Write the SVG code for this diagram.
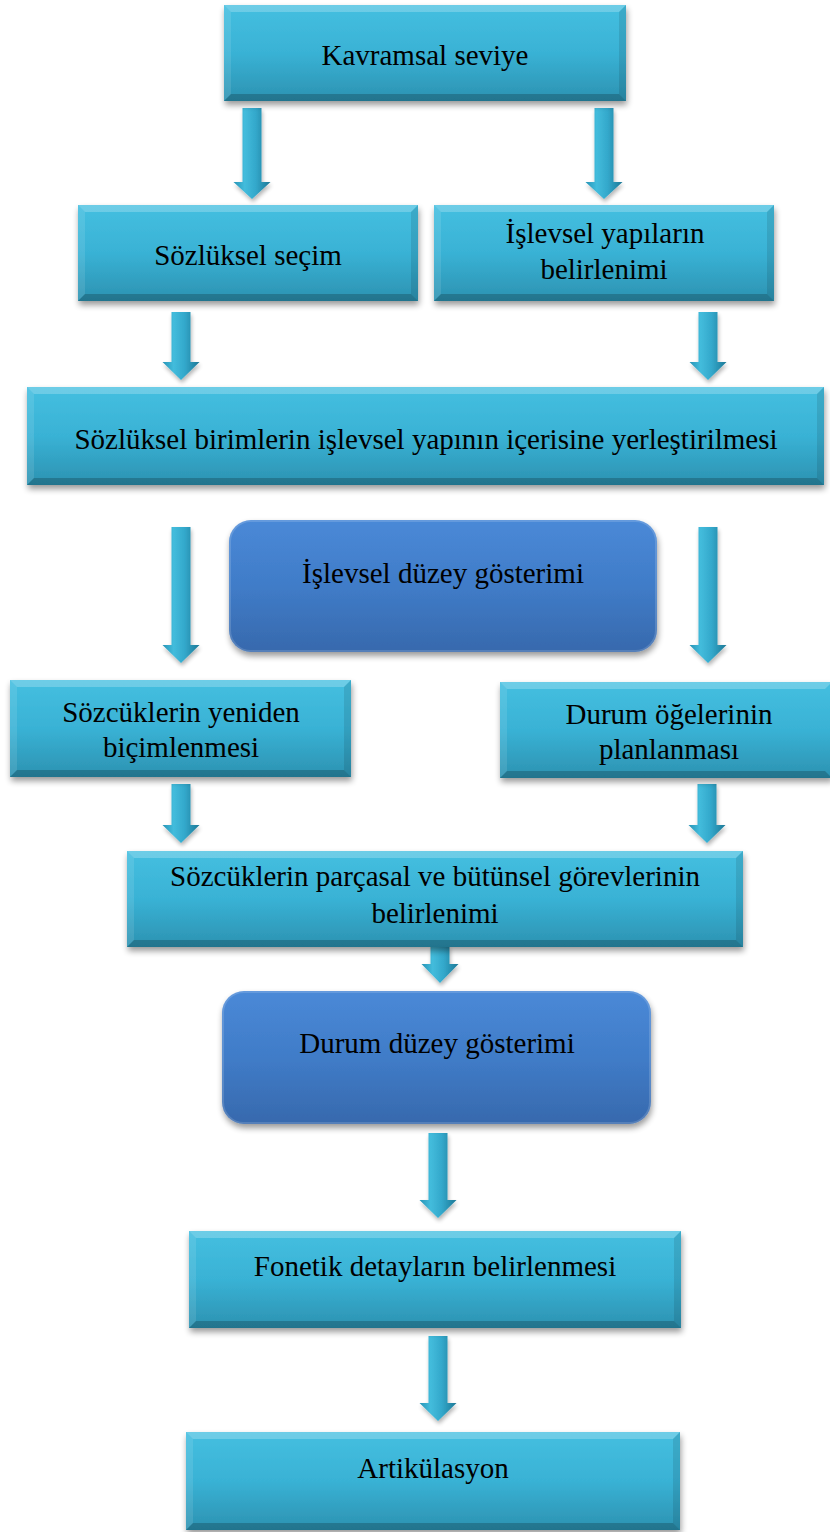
<svg xmlns="http://www.w3.org/2000/svg" width="830" height="1532" viewBox="0 0 830 1532">
<defs>
<linearGradient id="cy" x1="0" y1="0" x2="0" y2="1">
<stop offset="0" stop-color="#45bfe0"/>
<stop offset="0.5" stop-color="#39b2d5"/>
<stop offset="1" stop-color="#2c92b1"/>
</linearGradient>
<linearGradient id="bl" x1="0" y1="0" x2="0" y2="1">
<stop offset="0" stop-color="#4a89d7"/>
<stop offset="0.5" stop-color="#407cc8"/>
<stop offset="1" stop-color="#3769ad"/>
</linearGradient>
<linearGradient id="ag" x1="0" y1="0" x2="1" y2="0">
<stop offset="0" stop-color="#2794b6"/>
<stop offset="0.3" stop-color="#43bcdc"/>
<stop offset="0.6" stop-color="#33a8cb"/>
<stop offset="1" stop-color="#1d7896"/>
</linearGradient>
<filter id="sh" x="-10%" y="-10%" width="120%" height="130%">
<feGaussianBlur in="SourceAlpha" stdDeviation="3"/>
<feOffset dx="1" dy="4" result="b"/>
<feComponentTransfer><feFuncA type="linear" slope="0.4"/></feComponentTransfer>
<feMerge><feMergeNode/><feMergeNode in="SourceGraphic"/></feMerge>
</filter>
<filter id="ash" x="-50%" y="-10%" width="200%" height="130%">
<feGaussianBlur in="SourceAlpha" stdDeviation="2"/>
<feOffset dx="1" dy="3"/>
<feComponentTransfer><feFuncA type="linear" slope="0.3"/></feComponentTransfer>
<feMerge><feMergeNode/><feMergeNode in="SourceGraphic"/></feMerge>
</filter>
<style>
.box{fill:url(#cy);filter:url(#sh)}
.rbox{fill:url(#bl);filter:url(#sh)}
.bt{fill:#ffffff;fill-opacity:0.22}
.bl{fill:#ffffff;fill-opacity:0.1}
.br{fill:#000000;fill-opacity:0.1}
.bb{fill:#000000;fill-opacity:0.2}
.hl{fill:none;stroke:#ffffff;stroke-opacity:0.15;stroke-width:2}
.arr{fill:url(#ag)}
text{font-family:"Liberation Serif","Times New Roman",serif;font-size:29px;fill:#000;text-anchor:middle}
</style>
</defs>
<rect width="830" height="1532" fill="#ffffff"/>

<g id="connectors" filter="url(#ash)">
<path class="arr" d="M242.5,108H261.5V182H270.5L252,199L233.5,182H242.5Z"/>
<path class="arr" d="M594.5,108H613.5V182H622.5L604,199L585.5,182H594.5Z"/>
<path class="arr" d="M171.5,312H190.5V362H199.5L181,380L162.5,362H171.5Z"/>
<path class="arr" d="M698.5,312H717.5V362H726.5L708,380L689.5,362H698.5Z"/>
<path class="arr" d="M171.5,527H190.5V645H199.5L181,663L162.5,645H171.5Z"/>
<path class="arr" d="M698.5,527H717.5V645H726.5L708,663L689.5,645H698.5Z"/>
<path class="arr" d="M171.5,784H190.5V825H199.5L181,843L162.5,825H171.5Z"/>
<path class="arr" d="M697.5,784H716.5V825H725.5L707,843L688.5,825H697.5Z"/>
<path class="arr" d="M430.5,946H449.5V964H458.5L440,983L421.5,964H430.5Z"/>
<path class="arr" d="M428.5,1133H447.5V1200H456.5L438,1218L419.5,1200H428.5Z"/>
<path class="arr" d="M428.5,1336H447.5V1403H456.5L438,1421L419.5,1403H428.5Z"/>
</g>

<g id="n1">
<rect class="box" x="224" y="5" width="402" height="96"/>
<polygon class="bt" points="224,5 626,5 619,12 231,12"/>
<polygon class="bl" points="224,5 231,12 231,94 224,101"/>
<polygon class="br" points="626,5 626,101 619,94 619,12"/>
<polygon class="bb" points="224,101 231,94 619,94 626,101"/>
<text x="425" y="65">Kavramsal seviye</text>
</g>

<g id="n2">
<rect class="box" x="78" y="205" width="340" height="96"/>
<polygon class="bt" points="78,205 418,205 411,212 85,212"/>
<polygon class="bl" points="78,205 85,212 85,294 78,301"/>
<polygon class="br" points="418,205 418,301 411,294 411,212"/>
<polygon class="bb" points="78,301 85,294 411,294 418,301"/>
<text x="248" y="265">Sözlüksel seçim</text>
</g>

<g id="n3">
<rect class="box" x="434" y="205" width="340" height="96"/>
<polygon class="bt" points="434,205 774,205 767,212 441,212"/>
<polygon class="bl" points="434,205 441,212 441,294 434,301"/>
<polygon class="br" points="774,205 774,301 767,294 767,212"/>
<polygon class="bb" points="434,301 441,294 767,294 774,301"/>
<text x="605" y="243">İşlevsel yapıların</text>
<text x="604" y="279">belirlenimi</text>
</g>

<g id="n4">
<rect class="box" x="27" y="387" width="797" height="98"/>
<polygon class="bt" points="27,387 824,387 817,394 34,394"/>
<polygon class="bl" points="27,387 34,394 34,478 27,485"/>
<polygon class="br" points="824,387 824,485 817,478 817,394"/>
<polygon class="bb" points="27,485 34,478 817,478 824,485"/>
<text x="426" y="449">Sözlüksel birimlerin işlevsel yapının içerisine yerleştirilmesi</text>
</g>

<g id="n5">
<rect class="rbox" x="229" y="520" width="428" height="132" rx="22"/>
<rect class="hl" x="230" y="521" width="426" height="130" rx="21"/>
<text x="443" y="583">İşlevsel düzey gösterimi</text>
</g>

<g id="n6">
<rect class="box" x="10" y="680" width="341" height="97"/>
<polygon class="bt" points="10,680 351,680 344,687 17,687"/>
<polygon class="bl" points="10,680 17,687 17,770 10,777"/>
<polygon class="br" points="351,680 351,777 344,770 344,687"/>
<polygon class="bb" points="10,777 17,770 344,770 351,777"/>
<text x="181" y="722">Sözcüklerin yeniden</text>
<text x="181" y="757">biçimlenmesi</text>
</g>

<g id="n7">
<rect class="box" x="500" y="682" width="332" height="96"/>
<polygon class="bt" points="500,682 832,682 825,689 507,689"/>
<polygon class="bl" points="500,682 507,689 507,771 500,778"/>
<polygon class="bb" points="500,778 507,771 825,771 832,778"/>
<text x="669" y="724">Durum öğelerinin</text>
<text x="669" y="759">planlanması</text>
</g>

<g id="n8">
<rect class="box" x="127" y="851" width="616" height="96"/>
<polygon class="bt" points="127,851 743,851 736,858 134,858"/>
<polygon class="bl" points="127,851 134,858 134,940 127,947"/>
<polygon class="br" points="743,851 743,947 736,940 736,858"/>
<polygon class="bb" points="127,947 134,940 736,940 743,947"/>
<text x="435" y="886">Sözcüklerin parçasal ve bütünsel görevlerinin</text>
<text x="435" y="923">belirlenimi</text>
</g>

<g id="n9">
<rect class="rbox" x="222" y="991" width="429" height="133" rx="22"/>
<rect class="hl" x="223" y="992" width="427" height="131" rx="21"/>
<text x="437" y="1053">Durum düzey gösterimi</text>
</g>

<g id="n10">
<rect class="box" x="189" y="1231" width="492" height="97"/>
<polygon class="bt" points="189,1231 681,1231 674,1238 196,1238"/>
<polygon class="bl" points="189,1231 196,1238 196,1321 189,1328"/>
<polygon class="br" points="681,1231 681,1328 674,1321 674,1238"/>
<polygon class="bb" points="189,1328 196,1321 674,1321 681,1328"/>
<text x="435" y="1276">Fonetik detayların belirlenmesi</text>
</g>

<g id="n11">
<rect class="box" x="186" y="1432" width="494" height="98"/>
<polygon class="bt" points="186,1432 680,1432 673,1439 193,1439"/>
<polygon class="bl" points="186,1432 193,1439 193,1523 186,1530"/>
<polygon class="br" points="680,1432 680,1530 673,1523 673,1439"/>
<polygon class="bb" points="186,1530 193,1523 673,1523 680,1530"/>
<text x="433" y="1478">Artikülasyon</text>
</g>
</svg>
